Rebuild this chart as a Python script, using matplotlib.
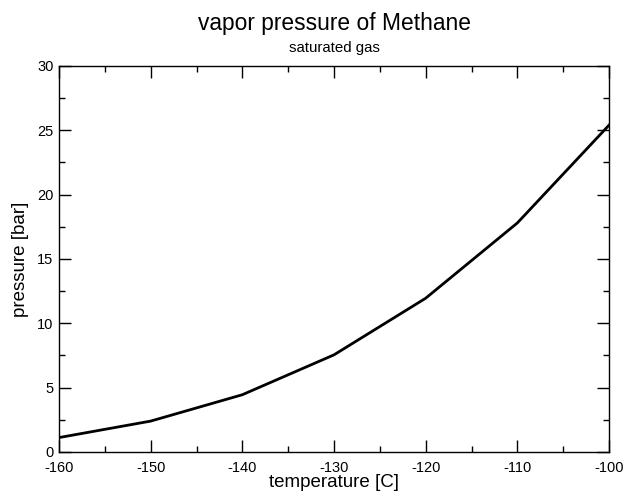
import matplotlib
matplotlib.use('Agg')
import matplotlib.pyplot as plt
from matplotlib.ticker import MultipleLocator

plt.rcParams['font.family'] = ['Liberation Sans', 'DejaVu Sans']
plt.rcParams['axes.unicode_minus'] = False

# datos
temperatura = [-160, -150, -140, -130, -120, -110, -100]
presion = [1.12, 2.4, 4.45, 7.55, 11.95, 17.8, 25.4]

fig = plt.figure(figsize=(6.27, 4.95), dpi=100)
ax = fig.add_axes([0.0941, 0.0869, 0.8772, 0.7798])
ax.plot(temperatura, presion, color='black', linewidth=2)

ax.set_xlim(-160, -100)
ax.set_ylim(0, 30)
ax.xaxis.set_major_locator(MultipleLocator(10))
ax.xaxis.set_minor_locator(MultipleLocator(5))
ax.yaxis.set_major_locator(MultipleLocator(5))
ax.yaxis.set_minor_locator(MultipleLocator(2.5))
ax.tick_params(which='both', direction='in', top=True, right=True, labelsize=10.5, width=1)
ax.tick_params(which='major', length=8.5)
ax.tick_params(which='minor', length=4.5)
ax.tick_params(axis='x', pad=6.5)
ax.tick_params(axis='y', pad=4)
for s in ax.spines.values():
    s.set_linewidth(1)

ax.set_xlabel('temperature [C]', fontsize=13.5, labelpad=-1)
ax.set_ylabel('pressure [bar]', fontsize=13.5, labelpad=6)
fig.text(0.533, 0.953, 'vapor pressure of Methane', ha='center', va='center', fontsize=16.4)
fig.text(0.533, 0.903, 'saturated gas', ha='center', va='center', fontsize=10.8)

fig.savefig('out.png', dpi=100)
